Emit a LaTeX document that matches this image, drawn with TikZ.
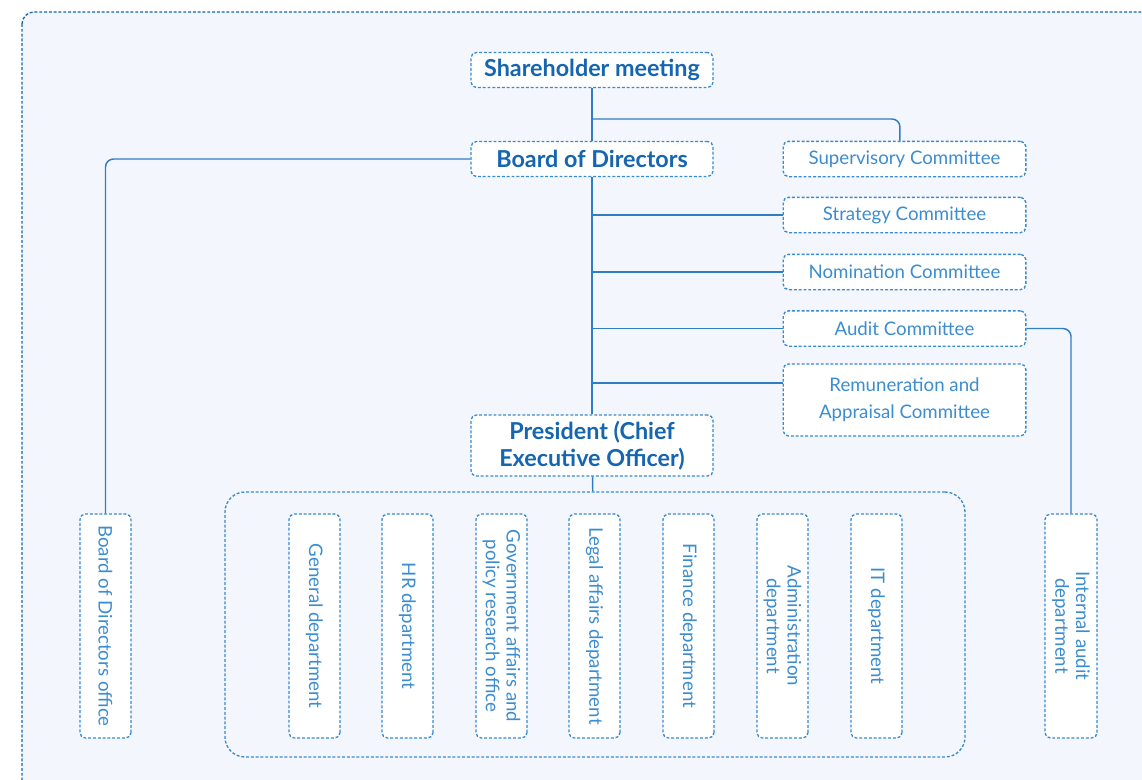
\documentclass[tikz,border=0pt]{standalone}
\usepackage{fontspec}
\setmainfont{Lato}
\usetikzlibrary{positioning}
\definecolor{orgline}{HTML}{2F7DC3}
\definecolor{orgdash}{HTML}{3A8AD0}
\definecolor{orgdark}{HTML}{1565B0}
\definecolor{orgtext}{HTML}{3C8DD0}
\definecolor{orgback}{HTML}{F3F7FD}
\begin{document}
\begin{tikzpicture}[x=0.75pt, y=-0.75pt,
  box/.style={draw=orgdash, fill=white, dash pattern=on 2.2pt off 1.4pt, line width=1pt,
    rounded corners=4pt, align=center, inner sep=2pt},
  head/.style={box, font=\fontsize{17.5}{20}\selectfont\bfseries, text=orgdark,
    minimum width=181.5pt, minimum height=26.25pt},
  cttee/.style={box, font=\fontsize{14}{20}\selectfont, text=orgtext,
    minimum width=182pt, minimum height=26.5pt},
  dept/.style={box, font=\fontsize{14}{15.5}\selectfont, text=orgtext, rotate=-90,
    minimum width=168pt, minimum height=38.25pt},
  group/.style={draw=orgdash, dash pattern=on 2.2pt off 1.4pt, line width=1pt,
    rounded corners=15pt, minimum width=555pt, minimum height=198.75pt},
  link/.style={draw=orgline, line width=1.1pt, rounded corners=6pt}]
\useasboundingbox (0,0) rectangle (1142,779);
\begin{scope}
  \clip (0,0) rectangle (1142,779);
  \draw[fill=orgback, draw=orgdark, dash pattern=on 2.2pt off 1.4pt, line width=1pt,
    rounded corners=9pt] (22,12) rectangle (1175,815);
\end{scope}

\node[head] (share) at (592,70) {Shareholder meeting};
\node[head] (board) at (592,159) {Board of Directors};
\node[head, minimum height=45.75pt] (pres) at (592,445.5) {President (Chief\\Executive Officer)};

\node[cttee] (super) at (904.5,159) {Supervisory Committee};
\node[cttee] (strat) at (904.5,215) {Strategy Committee};
\node[cttee] (nomin) at (904.5,272) {Nomination Committee};
\node[cttee] (audit) at (904.5,328.5) {Audit Committee};
\node[cttee, minimum height=54pt] (remun) at (904.5,400) {Remuneration and\\Appraisal Committee};

\node[group] (depts) at (595,624.5) {};
\node[dept] (bodo) at (105.5,626) {Board of Directors office};
\node[dept] (gen) at (314.5,626) {General department};
\node[dept] (hr) at (407.5,626) {HR department};
\node[dept] (gov) at (501.5,626) {Government affairs and\\policy research office};
\node[dept] (legal) at (594.5,626) {Legal affairs department};
\node[dept] (fin) at (688.5,626) {Finance department};
\node[dept] (admin) at (782.5,626) {Administration\\department};
\node[dept] (it) at (876.5,626) {IT department};
\node[dept, minimum height=39pt] (inaud) at (1071,626) {Internal audit\\department};

\coordinate (suptap) at (592,119);
\coordinate (remtap) at (592,383);
\draw[link] (share) -- (board);
\draw[link] (suptap) -| ([xshift=-3.4pt]super.north);
\draw[link] (board.west) -| (bodo.west);
\draw[link] (board) -- (pres);
\draw[link] (board.south |- strat.west) -- (strat.west);
\draw[link] (board.south |- nomin.west) -- (nomin.west);
\draw[link] (board.south |- audit.west) -- (audit.west);
\draw[link] (remtap) -- (remtap -| remun.west);
\draw[link] (audit.east) -| (inaud.west);
\draw[link] (pres) -- (depts);
\end{tikzpicture}
\end{document}
